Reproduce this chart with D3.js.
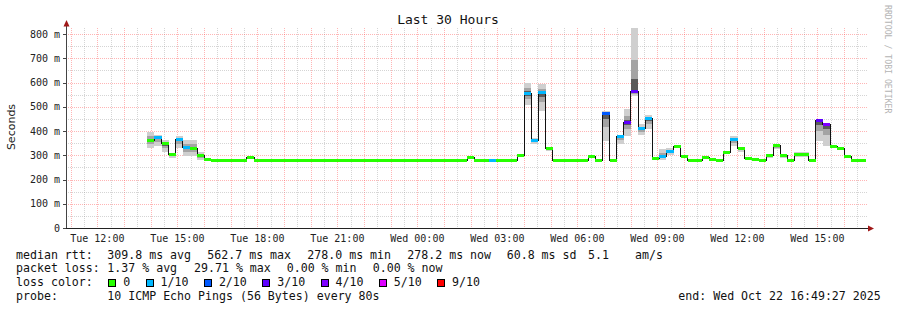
<!DOCTYPE html>
<html>
<head>
<meta charset="utf-8">
<script src="https://d3js.org/d3.v7.min.js"></script>
<style>
  body { margin: 0; background: #fff; }
  svg { display: block; }
  text { font-family: "DejaVu Sans Mono", monospace; }
</style>
</head>
<body>
<div id="mainer"></div>
<script>
// ---- data: one value per 16 minute rrd bin, starting Tue 13:52:30 ----
const binStart = new Date(2025, 9, 21, 13, 52, 30);
const binMinutes = 16;

// median rtt per bin, in ms
const median = [
  362,374,347,303,365,332,328,299,282,278,
  278,278,278,278,289,278,278,278,278,278,
  278,278,278,278,278,278,278,278,278,278,
  278,278,278,278,278,278,278,278,278,278,
  278,278,278,278,278,291,278,278,280,278,
  278,278,300,555,361,557,326,278,278,278,
  278,278,296,278,472,278,377,436,563,409,
  450,287,296,317,335,296,280,280,291,284,
  278,313,365,329,287,282,278,298,339,298,
  278,304,304,278,443,425,335,328,294,278,
  278
];
// lost pings out of 10 per bin
const loss = [
  0,1,0,0,1,1,0,0,0,0,
  0,0,0,0,0,0,0,0,0,0,
  0,0,0,0,0,0,0,0,0,0,
  0,0,0,0,0,0,0,0,0,0,
  0,0,0,0,0,0,0,0,1,0,
  0,0,0,1,1,1,0,0,0,0,
  0,0,0,0,2,0,1,3,3,1,
  1,0,1,1,0,0,0,0,0,0,
  0,0,1,0,0,0,0,0,0,0,
  0,0,0,0,3,4,0,0,0,0,
  0
];
// smoke (spread of the pings) for the bins that show it
const smokeBins = [0,1,2,3,4,5,6,7,8,14,45,52,53,54,55,56,62,64,66,67,68,69,70,72,73,74,78,81,82,83,84,87,88,89,91,92,94,95,96];
const smokeLo   = [332,337,313,290,332,296,299,282,279,283,285,294,509,348,482,318,290,358,348,378,543,385,410,282,300,330,285,305,337,315,282,290,325,290,292,292,358,340,330];
const smokeHi   = [394,385,361,311,381,361,361,313,286,295,296,305,599,373,592,332,300,481,381,489,827,427,468,324,330,342,294,318,381,335,290,305,345,305,312,312,447,427,340];

// y ticks (ms) and loss legend
const yTicks = [0,100,200,300,400,500,600,700,800];
const lossLevels = [0,1,2,3,4,5,9];
const lossLabels = ["0","1/10","2/10","3/10","4/10","5/10","9/10"];
const lossColors = ["#26ff00","#00b8ff","#0059ff","#5e00ff","#7e00ff","#dd00ff","#ff0000"];

const titleText = "Last 30 Hours";
const statsRtt  = [["median rtt:",16],["309.8 ms avg",107.3],["562.7 ms max",207.3],["278.0 ms min",307.3],["278.2 ms now",407.3],["60.8 ms sd",506.7],["5.1",588],["am/s",635]];
const statsLoss = [["packet loss:",16],["1.37 % avg",107.3],["29.71 % max",194],["0.00 % min",286.7],["0.00 % now",372.7]];
const probeText = "10 ICMP Echo Pings (56 Bytes) every 80s";
const endText   = "end: Wed Oct 22 16:49:27 2025";

const tEnd = new Date(2025, 9, 22, 16, 49, 27);
const tStart = d3.timeHour.offset(tEnd, -30);

// ---- layout ----
let width = 897, height = 310;
let svg = d3.select("#mainer").append("svg")
  .attr("width", width).attr("height", height);

let xScale = d3.scaleTime().domain([tStart, tEnd]).range([66, 866]);
let yScale = d3.scaleLinear().domain([0, 825]).range([228, 28]);

svg.append("defs").append("clipPath").attr("id", "plot")
  .append("rect").attr("x", 66).attr("y", 28).attr("width", 800).attr("height", 200);

// grid
let grid = svg.append("g").attr("shape-rendering", "crispEdges");
let halfHours = d3.timeMinute.every(30).range(tStart, tEnd);
grid.selectAll(".vx").data(halfHours).enter().append("line")
  .attr("x1", d => Math.round(xScale(d)) + 0.5).attr("x2", d => Math.round(xScale(d)) + 0.5)
  .attr("y1", 28).attr("y2", 228)
  .attr("stroke", d => d.getMinutes() === 0 ? "rgba(255,70,70,0.4)" : "rgba(150,150,150,0.4)")
  .attr("stroke-dasharray", "1,1");
let yGrid = d3.range(50, 826, 50);
grid.selectAll(".hy").data(yGrid).enter().append("line")
  .attr("x1", 66).attr("x2", 868)
  .attr("y1", d => Math.round(yScale(d)) + 0.5).attr("y2", d => Math.round(yScale(d)) + 0.5)
  .attr("stroke", d => d % 100 === 0 ? "rgba(255,70,70,0.4)" : "rgba(150,150,150,0.4)")
  .attr("stroke-dasharray", "1,1");

const binTime = i => d3.timeMinute.offset(binStart, i * binMinutes);
const binX = i => xScale(binTime(i));
const binW = i => binX(i + 1) - binX(i);

// smoke
let plot = svg.append("g").attr("clip-path", "url(#plot)").attr("shape-rendering", "crispEdges");
let smoke = smokeBins.map((b, k) => ({b: b, lo: smokeLo[k], hi: smokeHi[k], m: median[b]}));
const bands = [[0, "#cfcfcf"], [0.5, "#a4a4a4"], [0.8, "#5a5a5a"]];
bands.forEach(([f, col]) => {
  plot.selectAll(null).data(smoke).enter().append("rect")
    .attr("x", d => binX(d.b))
    .attr("width", d => binW(d.b))
    .attr("y", d => yScale(d.hi + (d.m - d.hi) * f))
    .attr("height", d => yScale(d.lo + (d.m - d.lo) * f) - yScale(d.hi + (d.m - d.hi) * f))
    .attr("fill", col);
});

// median step line
let pts = median.map((v, i) => [binX(i), yScale(v)]);
pts.push([binX(median.length), yScale(median[median.length - 1])]);
plot.append("path")
  .attr("d", d3.line().curve(d3.curveStepAfter)(pts))
  .attr("fill", "none").attr("stroke", "#111").attr("stroke-width", 1);

// loss coloured median bars
function lossColor(n) {
  let k = 0;
  lossLevels.forEach((lv, j) => { if (n >= lv) k = j; });
  return lossColors[k];
}
plot.selectAll(".med").data(median).enter().append("rect")
  .attr("x", (d, i) => binX(i))
  .attr("width", (d, i) => binW(i))
  .attr("y", d => yScale(d) - 1.5)
  .attr("height", 3)
  .attr("fill", (d, i) => lossColor(loss[i]));

// axes
let axes = svg.append("g").attr("shape-rendering", "crispEdges");
axes.append("line").attr("x1", 66.5).attr("x2", 66.5).attr("y1", 229).attr("y2", 24).attr("stroke", "#444");
axes.append("line").attr("x1", 63).attr("x2", 870).attr("y1", 228.5).attr("y2", 228.5).attr("stroke", "#222");
svg.append("path").attr("d", "M63.5,26.5 L66.5,20 L69.5,26.5 Z").attr("fill", "#a01818");
svg.append("path").attr("d", "M868,225.5 L874,228.5 L868,231.5 Z").attr("fill", "#a01818");

// y labels
svg.selectAll(".yl").data(yTicks).enter().append("text")
  .attr("x", 60).attr("y", d => yScale(d) + 3.6)
  .attr("text-anchor", "end").attr("font-size", 10).attr("fill", "#222")
  .text(d => d === 0 ? "0" : d + " m");
axes.selectAll(".yt").data(yTicks).enter().append("line")
  .attr("x1", 63).attr("x2", 66).attr("y1", d => Math.round(yScale(d)) + 0.5).attr("y2", d => Math.round(yScale(d)) + 0.5)
  .attr("stroke", "#444");

// x labels
let xTicks = d3.timeHour.every(3).range(tStart, tEnd);
svg.selectAll(".xl").data(xTicks).enter().append("text")
  .attr("x", d => xScale(d)).attr("y", 241.5)
  .attr("text-anchor", "middle").attr("font-size", 10).attr("fill", "#222")
  .text(d3.timeFormat("%a %H:%M"));

// title, axis title, watermark
svg.append("text").attr("x", 448).attr("y", 23.5).attr("text-anchor", "middle")
  .attr("font-size", 13).attr("fill", "#111").text(titleText);
svg.append("text").attr("transform", "translate(14.5,127) rotate(-90)")
  .attr("text-anchor", "middle").attr("font-size", 11)
  .style("font-family", "'DejaVu Sans', sans-serif").attr("fill", "#222").text("Seconds");
svg.append("text").attr("transform", "translate(885,5) rotate(90)")
  .attr("font-size", 8.2).attr("fill", "#b4b4b4").text("RRDTOOL / TOBI OETIKER");

// legend
let leg = svg.append("g").attr("font-size", 11.6).attr("fill", "#111");
leg.selectAll(".r1").data(statsRtt).enter().append("text")
  .attr("x", d => d[1]).attr("y", 258.5).text(d => d[0]);
leg.selectAll(".r2").data(statsLoss).enter().append("text")
  .attr("x", d => d[1]).attr("y", 272).text(d => d[0]);
leg.append("text").attr("x", 16).attr("y", 286).text("loss color:");
let lx = 108.3;
lossLabels.forEach((lab, j) => {
  leg.append("rect").attr("x", Math.round(lx) + 0.5).attr("y", 279.5).attr("width", 7).attr("height", 7)
    .attr("fill", lossColors[j]).attr("stroke", "#000");
  leg.append("text").attr("x", lx + 15).attr("y", 286).text(lab);
  lx += 30.3 + 7 * lab.length;
});
leg.append("text").attr("x", 16).attr("y", 299.5).text("probe:");
leg.append("text").attr("x", 107.3).attr("y", 299.5).text(probeText);
leg.append("text").attr("x", 678.3).attr("y", 299.5).text(endText);
</script>
</body>
</html>
